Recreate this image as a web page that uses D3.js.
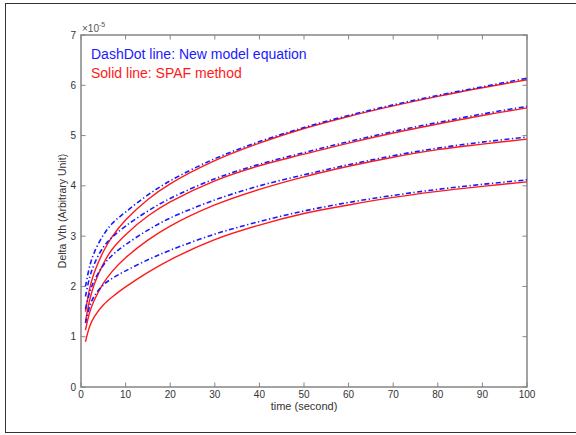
<!DOCTYPE html>
<html><head><meta charset="utf-8">
<script src="https://cdn.jsdelivr.net/npm/d3@7"></script>
<style>body{margin:0;background:#fff}svg{display:block}</style>
</head><body>
<svg id="c" width="576" height="435"></svg>
<script>
const times = [1,2,3,5,7,10,15,20,30,40,50,60,70,80,90,100];
const red4  = [1.50,1.98,2.28,2.69,2.99,3.32,3.73,4.04,4.50,4.85,5.14,5.38,5.59,5.78,5.95,6.11];
const red3  = [1.30,1.75,2.05,2.45,2.74,3.03,3.40,3.68,4.10,4.40,4.63,4.85,5.05,5.23,5.40,5.55];
const red2  = [1.13,1.50,1.73,2.06,2.30,2.57,2.92,3.20,3.62,3.93,4.18,4.39,4.57,4.72,4.83,4.93];
const red1  = [0.90,1.22,1.40,1.63,1.79,1.99,2.28,2.53,2.93,3.22,3.45,3.62,3.77,3.89,3.99,4.08];
const blue4 = [2.00,2.42,2.68,3.02,3.25,3.48,3.82,4.10,4.54,4.88,5.16,5.40,5.61,5.80,5.97,6.14];
const blue3 = [1.80,2.20,2.45,2.78,2.98,3.20,3.50,3.75,4.14,4.43,4.66,4.88,5.08,5.26,5.43,5.58];
const blue2 = [1.55,1.90,2.12,2.42,2.62,2.83,3.12,3.36,3.72,4.00,4.22,4.42,4.60,4.75,4.87,4.97];
const blue1 = [1.27,1.62,1.81,2.03,2.16,2.31,2.53,2.72,3.04,3.29,3.50,3.67,3.81,3.93,4.03,4.12];
const xTicks = [0,10,20,30,40,50,60,70,80,90,100];
const yTicks = [0,1,2,3,4,5,6,7];
const legendLines = ["DashDot line: New model equation","Solid line: SPAF method"];

const svg = d3.select("#c");
const font = "Liberation Sans, Arial, sans-serif";
svg.append("rect").attr("x",5.5).attr("y",3.5).attr("width",590).attr("height",429)
  .attr("fill","none").attr("stroke","#333").attr("stroke-width",1);

const L=81, R=527, T=35, B=387;
const x = d3.scaleLinear().domain([0,100]).range([L,R]);
const y = d3.scaleLinear().domain([0,7]).range([B,T]);

const g = svg.append("g");
const axCol = "#858585";
const tk=4.5;
xTicks.forEach(t=>{
  g.append("line").attr("x1",x(t)).attr("x2",x(t)).attr("y1",B).attr("y2",B-tk).attr("stroke",axCol);
  g.append("line").attr("x1",x(t)).attr("x2",x(t)).attr("y1",T).attr("y2",T+tk).attr("stroke",axCol);
  g.append("text").attr("x",x(t)).attr("y",B+11).attr("text-anchor","middle")
   .attr("font-family",font).attr("font-size",10).attr("fill","#333").text(t);
});
yTicks.forEach(v=>{
  g.append("line").attr("x1",L).attr("x2",L+tk).attr("y1",y(v)).attr("y2",y(v)).attr("stroke",axCol);
  g.append("line").attr("x1",R).attr("x2",R-tk).attr("y1",y(v)).attr("y2",y(v)).attr("stroke",axCol);
  g.append("text").attr("x",L-5).attr("y",y(v)+3.5).attr("text-anchor","end")
   .attr("font-family",font).attr("font-size",10).attr("fill","#333").text(v);
});
g.append("rect").attr("x",L).attr("y",T).attr("width",R-L).attr("height",B-T)
  .attr("fill","none").attr("stroke",axCol).attr("stroke-width",1.5);

const ex = g.append("text").attr("x",L+1).attr("y",T-3).attr("font-family",font)
  .attr("font-size",10).attr("fill","#555");
ex.append("tspan").text("\u00d710");
ex.append("tspan").attr("dy",-5).attr("font-size",7).text("-5");

const line = d3.line().x((d,i)=>x(times[i])).y(d=>y(d)).curve(d3.curveCatmullRom.alpha(0.5));
[red1,red2,red3,red4].forEach(s=>{
  g.append("path").attr("d",line(s)).attr("fill","none").attr("stroke","#ff1a1a").attr("stroke-width",1.4);
});
[blue1,blue2,blue3,blue4].forEach(s=>{
  g.append("path").attr("d",line(s)).attr("fill","none").attr("stroke","#1a1aff").attr("stroke-width",1.6)
   .attr("stroke-dasharray","5,2.5,1.3,2.5");
});

g.append("text").attr("x",91).attr("y",59).attr("font-family",font).attr("font-size",14)
  .attr("fill","#1a1aff").text(legendLines[0]);
g.append("text").attr("x",91).attr("y",78).attr("font-family",font).attr("font-size",14)
  .attr("fill","#ff1a1a").text(legendLines[1]);

g.append("text").attr("x",(L+R)/2).attr("y",410).attr("text-anchor","middle")
  .attr("font-family",font).attr("font-size",11).attr("fill","#333").text("time (second)");
g.append("text").attr("transform","translate(66,"+((T+B)/2)+") rotate(-90)").attr("text-anchor","middle")
  .attr("font-family",font).attr("font-size",10.5).attr("fill","#333").text("Delta Vth (Arbitrary Unit)");
</script>
</body></html>
